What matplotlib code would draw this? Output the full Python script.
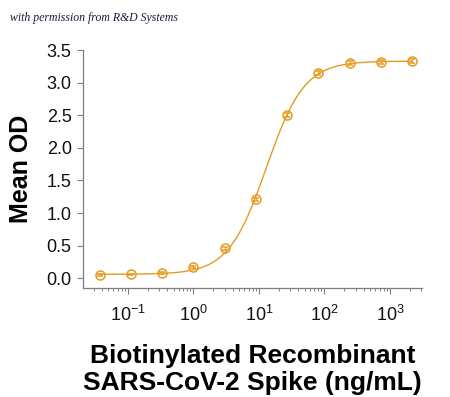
import numpy as np
import matplotlib
matplotlib.use("Agg")
import matplotlib.pyplot as plt
from matplotlib.ticker import LogLocator, FixedLocator, NullFormatter

# Data
conc = [0.037, 0.111, 0.333, 1.0, 3.0, 9.0, 27.0, 81.0, 243.0, 729.0, 2187.0]
mean_od = [0.05, 0.06, 0.08, 0.17, 0.46, 1.21, 2.51, 3.15, 3.30, 3.32, 3.33]
err_od = [0.01, 0.01, 0.01, 0.02, 0.02, 0.02, 0.03, 0.03, 0.03, 0.03, 0.03]

# 4-parameter logistic fit parameters (bottom, top, EC50, hill)
fit_bottom = 0.06
fit_top = 3.33
fit_ec50 = 13.0
fit_hill = 1.5

y_ticks = [0.0, 0.5, 1.0, 1.5, 2.0, 2.5, 3.0, 3.5]
x_ticks = [0.1, 1, 10, 100, 1000]

color = "#E69B22"

plt.rcParams['font.family'] = ['Liberation Sans', 'DejaVu Sans']

fig = plt.figure(figsize=(4.5, 3.97), dpi=100)
ax = fig.add_axes([0.184, 0.2746, 0.754, 0.5994])

xs = np.logspace(np.log10(conc[0]), np.log10(conc[-1]), 300)
ys = fit_bottom + (fit_top - fit_bottom) / (1 + (fit_ec50 / xs) ** fit_hill)
ax.plot(xs, ys, color=color, lw=1.0, zorder=2)
ax.errorbar(conc, mean_od, yerr=err_od, fmt='o', mfc='none', mec=color,
            ecolor=color, ms=6.5, mew=1.1, capsize=2.5, elinewidth=0.8,
            capthick=0.8, zorder=3)

ax.set_xscale('log')
ax.set_xlim(0.0205, 3100)
ax.set_ylim(-0.15, 3.5)
ax.set_yticks(y_ticks)
ax.set_yticklabels([f"{v:.1f}" for v in y_ticks])
ax.xaxis.set_major_locator(FixedLocator(x_ticks))
ax.set_xticklabels([r"$\mathregular{10^{-1}}$", r"$\mathregular{10^{0}}$",
                    r"$\mathregular{10^{1}}$", r"$\mathregular{10^{2}}$",
                    r"$\mathregular{10^{3}}$"])
ax.xaxis.set_minor_locator(LogLocator(base=10, subs=np.arange(2, 10), numticks=20))
ax.xaxis.set_minor_formatter(NullFormatter())

for s in ['top', 'right']:
    ax.spines[s].set_visible(False)
for s in ['left', 'bottom']:
    ax.spines[s].set_color('#7f7f7f')
    ax.spines[s].set_linewidth(0.9)
ax.spines['left'].set_bounds(-0.15, 3.5)

ax.tick_params(axis='both', which='major', length=4, width=0.8, color='#7f7f7f',
               labelsize=13, labelcolor='#111111', pad=4)
ax.tick_params(axis='x', which='major', pad=8)
ax.tick_params(axis='x', which='minor', length=2.5, width=0.7, color='#7f7f7f')

ax.set_ylabel("Mean OD", fontsize=18, fontweight='bold', labelpad=10)
ax.set_xlabel("Biotinylated Recombinant\nSARS-CoV-2 Spike (ng/mL)", fontsize=19,
              fontweight='bold', labelpad=14, linespacing=1.15)

fig.text(0.022, 0.955, "with permission from R&D Systems", fontsize=8.5,
         style='italic', family='Liberation Serif', color='#1a1a3a', va='center')

fig.savefig("out.png", dpi=100, facecolor='white')
